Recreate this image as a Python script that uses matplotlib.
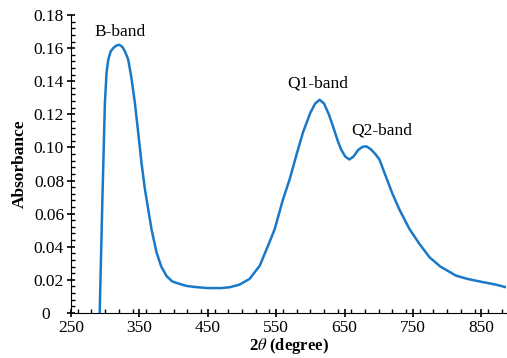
import matplotlib
matplotlib.use("Agg")
from matplotlib import pyplot as plt
from matplotlib.ticker import MultipleLocator

# values
two_theta = [292, 296, 299.6, 302, 304.5, 308, 311.8, 316, 320.5, 325, 329, 333.7, 338,
             343.4, 348, 353, 358, 362.9, 368, 375, 382, 389.7, 398, 409, 419, 430,
             450, 470, 482, 496, 511, 526, 538, 547.8, 560, 569.7, 580, 589, 600,
             607, 613.5, 620, 627, 633, 640, 645, 651, 657, 663, 670, 676, 681.6,
             688, 695, 701, 711, 720, 730, 745, 759, 774, 790, 813, 830, 851, 870, 886]
absorbance = [0.0, 0.07, 0.127, 0.145, 0.153, 0.158, 0.160, 0.1615, 0.162, 0.1608, 0.158,
              0.153, 0.143, 0.127, 0.110, 0.091, 0.075, 0.0626, 0.050, 0.0367, 0.028,
              0.0223, 0.019, 0.0175, 0.0163, 0.0157, 0.0150, 0.0150, 0.0155, 0.0170,
              0.0205, 0.0285, 0.0405, 0.0506, 0.0686, 0.0807, 0.096, 0.1088, 0.121,
              0.1265, 0.1288, 0.1265, 0.120, 0.1128, 0.104, 0.0987, 0.0945, 0.0927,
              0.0945, 0.0985, 0.1003, 0.1007, 0.099, 0.096, 0.0927, 0.0817, 0.072,
              0.0626, 0.0506, 0.0420, 0.0337, 0.028, 0.0225, 0.0205, 0.0187, 0.0172, 0.0155]

band_names = ["B-band", "Q1-band", "Q2-band"]
band_x = [321.5, 610.5, 705]
band_y = [0.1697, 0.1385, 0.110]

plt.rcParams['font.family'] = ['Liberation Serif', 'DejaVu Serif']
plt.rcParams['mathtext.fontset'] = 'stix'

fig = plt.figure(figsize=(5.07, 3.58), dpi=100)
ax = fig.add_axes([0.140, 0.126, 0.858, 0.832])

ax.plot(two_theta, absorbance, color='#1a78c8', lw=1.8)

for name, bx, by in zip(band_names, band_x, band_y):
    ax.text(bx, by, name, ha='center', va='center', fontsize=12.5)

ax.set_xlim(250, 886)
ax.set_ylim(0, 0.18)
ax.xaxis.set_minor_locator(MultipleLocator(20))
ax.yaxis.set_minor_locator(MultipleLocator(0.004))
ax.set_xticks([250, 350, 450, 550, 650, 750, 850])
ax.set_yticks([0, 0.02, 0.04, 0.06, 0.08, 0.10, 0.12, 0.14, 0.16, 0.18])
ax.set_yticklabels(['0   ', '0.02', '0.04', '0.06', '0.08', '0.10', '0.12', '0.14', '0.16', '0.18'])
ax.tick_params(which='major', direction='inout', length=6, width=1.2, labelsize=12.5, pad=2)
ax.tick_params(which='minor', direction='in', length=3, width=1)

for s in ['top', 'right']:
    ax.spines[s].set_visible(False)

ax.set_xlabel(r'2$\it{\theta}$ (degree)', fontsize=12, fontweight='bold', labelpad=0)
ax.set_ylabel('Absorbance', fontsize=12.5, fontweight='bold', labelpad=4)

fig.savefig('out.png', dpi=100)
